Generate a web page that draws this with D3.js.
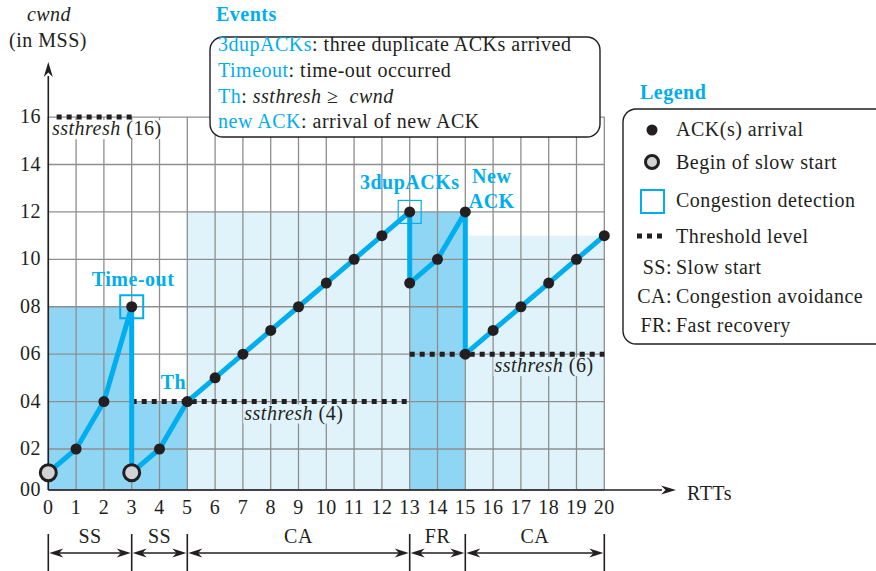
<!DOCTYPE html>
<html><head><meta charset="utf-8">
<script src="https://cdn.jsdelivr.net/npm/d3@7"></script>
<style>
body{margin:0;background:#fff}
svg text{font-family:"Liberation Serif","Times New Roman",serif;fill:#231f20;letter-spacing:0.5px}
</style></head>
<body><svg id="c" width="876" height="571"></svg>
<script>
// ---------- data ----------
const rtts = d3.range(0, 21);
const yTicks = [0, 2, 4, 6, 8, 10, 12, 14, 16];
const yTickLabels = ["00", "02", "04", "06", "08", "10", "12", "14", "16"];
const cwndX = [0, 1, 2, 3, 3, 4, 5, 6, 7, 8, 9, 10, 11, 12, 13, 13, 14, 15, 15, 16, 17, 18, 19, 20];
const cwndY = [1, 2, 4, 8, 1, 2, 4, 5, 6, 7, 8, 9, 10, 11, 12, 9, 10, 12, 6, 7, 8, 9, 10, 11];
const slowStartIdx = [0, 4];
const congestionIdx = [3, 14];
const regionX0 = [0, 3, 5, 13, 15];
const regionX1 = [3, 5, 13, 15, 20];
const regionTop = [8, 4, 12, 12, 11];
const regionKind = ["dark", "dark", "light", "dark", "light"];
const threshX0 = [0.3, 3, 13];
const threshX1 = [3.1, 13, 20];
const threshVal = [16, 4, 6];
const phaseX0 = [0, 3, 5, 13, 15];
const phaseX1 = [3, 5, 13, 15, 20];
const phaseLabel = ["SS", "SS", "CA", "FR", "CA"];
const eventLines = [
  [["3dupACKs", "c"], [": three duplicate ACKs arrived", "n"]],
  [["Timeout", "c"], [": time-out occurred", "n"]],
  [["Th", "c"], [": ", "n"], ["ssthresh", "i"], [" \u2265\u00a0 ", "n"], ["cwnd", "i"]],
  [["new ACK", "c"], [": arrival of new ACK", "n"]]
];
const legendAbbr = ["SS:", "CA:", "FR:"];
const legendAbbrText = ["Slow start", "Congestion avoidance", "Fast recovery"];

// ---------- layout ----------
const FS = 20;
const CYAN = "#00aeef", DARK = "#8fd6f5", LIGHT = "#e0f3fb", GRID = "#8e8e8e", INK = "#231f20";
const svg = d3.select("#c");
const x = d3.scaleLinear().domain([0, 20]).range([48.3, 604.3]);
const y = d3.scaleLinear().domain([0.27, 16]).range([490, 117.1]).clamp(true);

// fills
svg.append("g").selectAll("rect").data(regionX0).join("rect")
  .attr("x", (d, i) => x(regionX0[i])).attr("width", (d, i) => x(regionX1[i]) - x(regionX0[i]))
  .attr("y", (d, i) => y(regionTop[i])).attr("height", (d, i) => y(0) - y(regionTop[i]))
  .attr("fill", (d, i) => regionKind[i] === "dark" ? DARK : LIGHT);

// grid
const grid = svg.append("g").attr("stroke", GRID).attr("stroke-width", 1.3);
grid.selectAll("line.v").data(rtts).join("line").attr("class", "v")
  .attr("x1", d => x(d)).attr("x2", d => x(d)).attr("y1", y(16)).attr("y2", y(0));
grid.selectAll("line.h").data(yTicks).join("line").attr("class", "h")
  .attr("x1", x(0)).attr("x2", x(20)).attr("y1", d => y(d)).attr("y2", d => y(d));

// threshold label backgrounds + labels
const threshLabelX = [0.13, 7.05, 16.05];
const tl = svg.append("g");
threshVal.forEach((v, i) => {
  const t = tl.append("text").attr("x", x(threshLabelX[i])).attr("y", y(v) + 18).attr("font-size", FS);
  t.append("tspan").attr("font-style", "italic").text("ssthresh");
  t.append("tspan").text(" (" + v + ")");
  const bb = t.node().getBBox();
  tl.insert("rect", "text").attr("x", bb.x - 1).attr("y", bb.y + 3).attr("width", bb.width + 2).attr("height", bb.height - 4)
    .attr("fill", i === 0 ? "#fff" : LIGHT);
});

// threshold dotted lines
svg.append("g").selectAll("line").data(threshVal).join("line")
  .attr("x1", (d, i) => x(threshX0[i])).attr("x2", (d, i) => x(threshX1[i]))
  .attr("y1", d => y(d)).attr("y2", d => y(d))
  .attr("stroke", INK).attr("stroke-width", 5).attr("stroke-dasharray", "5,5");

// axes
const ax = svg.append("g").attr("stroke", INK).attr("stroke-width", 1.6).attr("fill", "none");
ax.append("line").attr("x1", x(0)).attr("x2", 662).attr("y1", y(0)).attr("y2", y(0));
ax.append("line").attr("x1", x(0)).attr("x2", x(0)).attr("y1", y(0)).attr("y2", 76);
function arrowHead(g, tx, ty, angle, len = 15, hw = 4.5) {
  g.append("path").attr("d", `M0,0 L${-len},${-hw} L${-len * 0.7},0 L${-len},${hw} Z`)
    .attr("transform", `translate(${tx},${ty}) rotate(${angle})`).attr("fill", INK).attr("stroke", "none");
}
arrowHead(svg, 676, y(0), 0);
arrowHead(svg, x(0), 62, -90);

// tick labels
svg.append("g").selectAll("text").data(yTicks).join("text")
  .attr("x", 41).attr("y", d => y(d) + 6).attr("text-anchor", "end").attr("font-size", FS)
  .text((d, i) => yTickLabels[i]);
svg.append("g").selectAll("text").data(rtts).join("text")
  .attr("x", d => x(d)).attr("y", 514).attr("text-anchor", "middle").attr("font-size", FS)
  .text(d => d);
svg.append("text").attr("x", 687).attr("y", 500).attr("font-size", FS).text("RTTs");
svg.append("text").attr("x", 49).attr("y", 21).attr("text-anchor", "middle").attr("font-size", FS)
  .attr("font-style", "italic").text("cwnd");
svg.append("text").attr("x", 48).attr("y", 47).attr("text-anchor", "middle").attr("font-size", FS).text("(in MSS)");

// cwnd line
const pts = cwndX.map((d, i) => [cwndX[i], cwndY[i]]);
svg.append("path").datum(pts)
  .attr("d", d3.line().x(d => x(d[0])).y(d => y(d[1])))
  .attr("fill", "none").attr("stroke", CYAN).attr("stroke-width", 5).attr("stroke-linejoin", "round");

// congestion squares
svg.append("g").selectAll("rect").data(congestionIdx).join("rect")
  .attr("x", d => x(cwndX[d]) - 11.5).attr("y", d => y(cwndY[d]) - 11.5)
  .attr("width", 23).attr("height", 23).attr("fill", "none").attr("stroke", CYAN)
  .attr("stroke-width", (d, i) => i === 0 ? 2 : 1.2);

// points
svg.append("g").selectAll("circle").data(pts).join("circle")
  .attr("cx", d => x(d[0])).attr("cy", d => y(d[1]))
  .attr("r", (d, i) => slowStartIdx.includes(i) ? 8 : 5.5)
  .attr("fill", (d, i) => slowStartIdx.includes(i) ? "#d1d3d4" : INK)
  .attr("stroke", INK).attr("stroke-width", (d, i) => slowStartIdx.includes(i) ? 3 : 0);

// event labels on chart
const evLab = svg.append("g").attr("font-weight", "bold").attr("font-size", FS).attr("text-anchor", "middle");
evLab.append("text").attr("x", x(3.05)).attr("y", 286).style("fill", CYAN).text("Time-out");
evLab.append("text").attr("x", x(4.5)).attr("y", 389).style("fill", CYAN).text("Th");
evLab.append("text").attr("x", x(13)).attr("y", 189).style("fill", CYAN).text("3dupACKs");
evLab.append("text").attr("x", x(15.95)).attr("y", 183).style("fill", CYAN).text("New");
evLab.append("text").attr("x", x(15.95)).attr("y", 208).style("fill", CYAN).text("ACK");

// phases
const ph = svg.append("g");
ph.selectAll("line.bar").data(d3.union(phaseX0, phaseX1)).join("line").attr("class", "bar")
  .attr("x1", d => x(d)).attr("x2", d => x(d)).attr("y1", 534).attr("y2", 571)
  .attr("stroke", INK).attr("stroke-width", 1.6);
phaseLabel.forEach((lab, i) => {
  const a = x(phaseX0[i]) + 1, b = x(phaseX1[i]) - 1, m = (a + b) / 2;
  ph.append("line").attr("x1", a + 8).attr("x2", b - 8).attr("y1", 553).attr("y2", 553)
    .attr("stroke", INK).attr("stroke-width", 1.4);
  arrowHead(ph, a, 553, 180, 14, 4.5);
  arrowHead(ph, b, 553, 0, 14, 4.5);
  ph.append("text").attr("x", m).attr("y", 543).attr("text-anchor", "middle").attr("font-size", FS).text(lab);
});

// events box
svg.append("text").attr("x", 216).attr("y", 21).attr("font-size", FS).attr("font-weight", "bold")
  .style("fill", CYAN).text("Events");
svg.append("rect").attr("x", 210).attr("y", 37).attr("width", 390).attr("height", 100).attr("rx", 13)
  .attr("fill", "#fff").attr("stroke", INK).attr("stroke-width", 1.4);
eventLines.forEach((parts, i) => {
  const t = svg.append("text").attr("x", 218).attr("y", 51 + i * 25.8).attr("font-size", FS);
  parts.forEach(([s, k]) => {
    const sp = t.append("tspan").text(s);
    if (k === "c") sp.style("fill", CYAN);
    if (k === "i") sp.attr("font-style", "italic");
  });
});

// legend
svg.append("text").attr("x", 640).attr("y", 99).attr("font-size", FS).attr("font-weight", "bold")
  .style("fill", CYAN).text("Legend");
svg.append("rect").attr("x", 623).attr("y", 109).attr("width", 265).attr("height", 235).attr("rx", 13)
  .attr("fill", "#fff").attr("stroke", INK).attr("stroke-width", 1.4);
const lg = svg.append("g").attr("font-size", FS);
lg.append("circle").attr("cx", 652).attr("cy", 130).attr("r", 5.5).attr("fill", INK);
lg.append("text").attr("x", 676).attr("y", 136).text("ACK(s) arrival");
lg.append("circle").attr("cx", 652).attr("cy", 162).attr("r", 6.5).attr("fill", "#d1d3d4").attr("stroke", INK).attr("stroke-width", 3);
lg.append("text").attr("x", 676).attr("y", 169).text("Begin of slow start");
lg.append("rect").attr("x", 641).attr("y", 190).attr("width", 23).attr("height", 23).attr("fill", "none")
  .attr("stroke", CYAN).attr("stroke-width", 2);
lg.append("text").attr("x", 676).attr("y", 207).text("Congestion detection");
lg.append("line").attr("x1", 637).attr("x2", 664).attr("y1", 236).attr("y2", 236)
  .attr("stroke", INK).attr("stroke-width", 5).attr("stroke-dasharray", "5,5");
lg.append("text").attr("x", 676).attr("y", 243).text("Threshold level");
legendAbbr.forEach((a, i) => {
  const yy = 274 + i * 29;
  lg.append("text").attr("x", 672).attr("y", yy).attr("text-anchor", "end").text(a);
  lg.append("text").attr("x", 676).attr("y", yy).text(legendAbbrText[i]);
});
</script></body></html>
